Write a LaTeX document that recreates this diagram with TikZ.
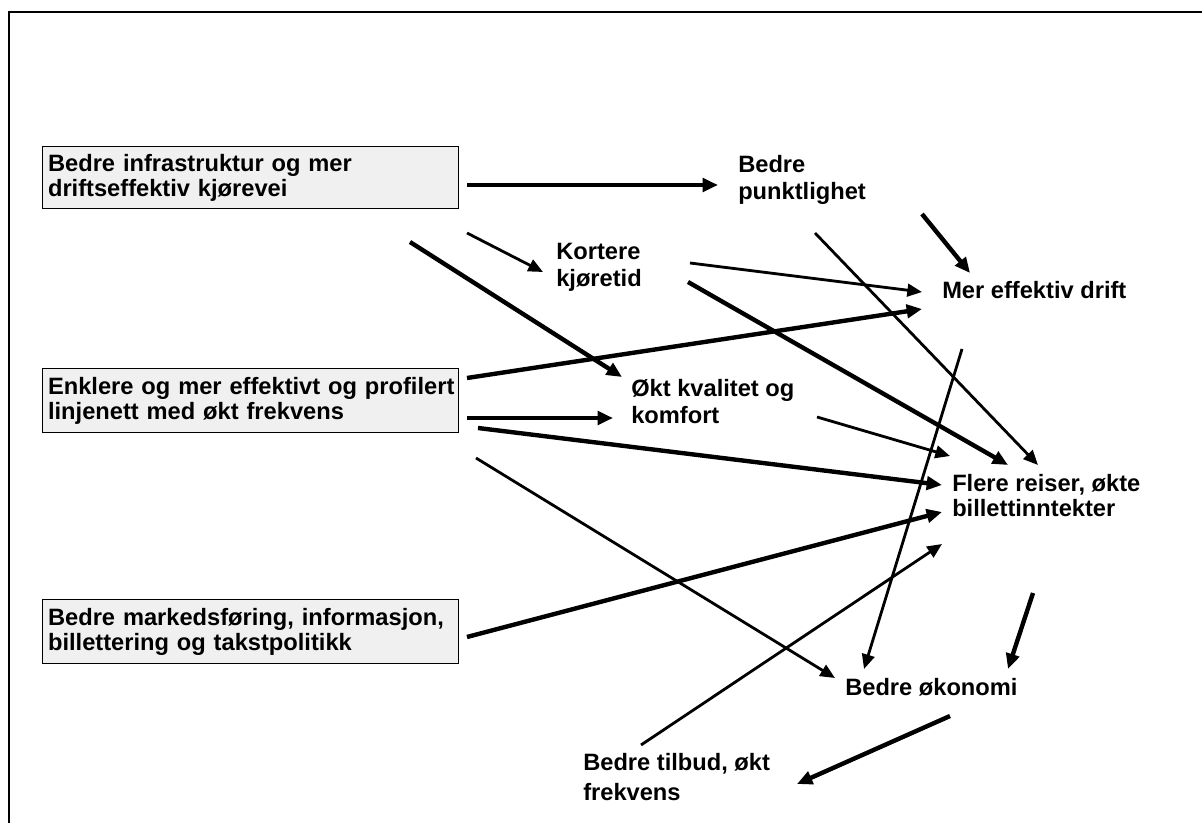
\documentclass[tikz,border=0pt]{standalone}
\usepackage{fontspec}
\setmainfont{Liberation Sans}
\usetikzlibrary{arrows.meta}
\definecolor{boxgray}{HTML}{F0F0F0}
\begin{document}
\begin{tikzpicture}[x=0.75pt,y=-0.75pt,
  lbl/.style={anchor=base west, inner sep=0pt, align=left, font=\bfseries\fontsize{17.75}{20.25}\selectfont},
  causebox/.style={draw=black, line width=1.1pt, fill=boxgray, anchor=north west, inner xsep=4pt, inner ysep=0pt, text width=304pt, align=left, font=\bfseries\fontsize{17.75}{18.75}\selectfont},
  thk/.style={line width=3.3pt, -{Triangle[length=11.5pt,width=10pt]}},
  thn/.style={line width=2.1pt, -{Triangle[length=11pt,width=9.5pt]}}]
\useasboundingbox (0,0) rectangle (1202,823);
% frame (cut at right and bottom)
\draw[line width=1.5pt] (1202,12) -- (9,12) -- (9,823);

% cause boxes
\node[causebox, minimum height=46.5pt] (b1) at (42,146) {\mbox{Bedre infrastruktur og mer}\\\mbox{driftseffektiv kjørevei}};
\node[causebox, minimum height=48pt] (b2) at (42,368) {\mbox{Enklere og mer effektivt og profilert}\\\mbox{linjenett med økt frekvens}};
\node[causebox, minimum height=48pt] (b3) at (42,599) {\mbox{Bedre markedsføring, informasjon,}\\\mbox{billettering og takstpolitikk}};

% effect labels (base anchor = baseline of last line)
\node[lbl] (punkt) at (738,200) {Bedre\\punktlighet};
\node[lbl] (kort) at (556,287) {Kortere\\kjøretid};
\node[lbl] (drift) at (942,299) {Mer effektiv drift};
\node[lbl] (kval) at (631,423) {Økt kvalitet og\\komfort};
\node[lbl, font=\bfseries\fontsize{17.75}{18.75}\selectfont] (flere) at (952,516) {Flere reiser, økte\\billettinntekter};
\node[lbl] (okon) at (845,695) {Bedre økonomi};
\node[lbl, font=\bfseries\fontsize{17.75}{22.5}\selectfont] (tilbud) at (583,800) {Bedre tilbud, økt\\frekvens};

% connector end points
\coordinate (a1s) at (467,185);  \coordinate (a1e) at (718,185);
\coordinate (a2s) at (467,233);  \coordinate (a2e) at (543,272);
\coordinate (a3s) at (410,242);  \coordinate (a3e) at (622,377);
\coordinate (a4s) at (690,263);  \coordinate (a4e) at (922,292);
\coordinate (a5s) at (688,282);  \coordinate (a5e) at (1008,465);
\coordinate (a6s) at (815,233);  \coordinate (a6e) at (1038,465);
\coordinate (a7s) at (922,214);  \coordinate (a7e) at (970,273);
\coordinate (a8s) at (467,378);  \coordinate (a8e) at (922,309);
\coordinate (a9s) at (467,418);  \coordinate (a9e) at (613,418);
\coordinate (a10s) at (817,417); \coordinate (a10e) at (950,456);
\coordinate (a11s) at (478,428); \coordinate (a11e) at (942,485);
\coordinate (a12s) at (476,458); \coordinate (a12e) at (835,678);
\coordinate (a13s) at (467,637); \coordinate (a13e) at (942,512);
\coordinate (a14s) at (962,349); \coordinate (a14e) at (864,669);
\coordinate (a15s) at (641,745); \coordinate (a15e) at (942,544);
\coordinate (a16s) at (1033,593); \coordinate (a16e) at (1008,669);
\coordinate (a17s) at (950,716); \coordinate (a17e) at (797,784);

\draw[thk] (a1s) -- (a1e);
\draw[thn] (a2s) -- (a2e);
\draw[thk] (a3s) -- (a3e);
\draw[thn] (a4s) -- (a4e);
\draw[thk] (a5s) -- (a5e);
\draw[thn] (a6s) -- (a6e);
\draw[thk] (a7s) -- (a7e);
\draw[thk] (a8s) -- (a8e);
\draw[thk] (a9s) -- (a9e);
\draw[thn] (a10s) -- (a10e);
\draw[thk] (a11s) -- (a11e);
\draw[thn] (a12s) -- (a12e);
\draw[thk] (a13s) -- (a13e);
\draw[thn] (a14s) -- (a14e);
\draw[thn] (a15s) -- (a15e);
\draw[thk] (a16s) -- (a16e);
\draw[thk] (a17s) -- (a17e);
\end{tikzpicture}
\end{document}
